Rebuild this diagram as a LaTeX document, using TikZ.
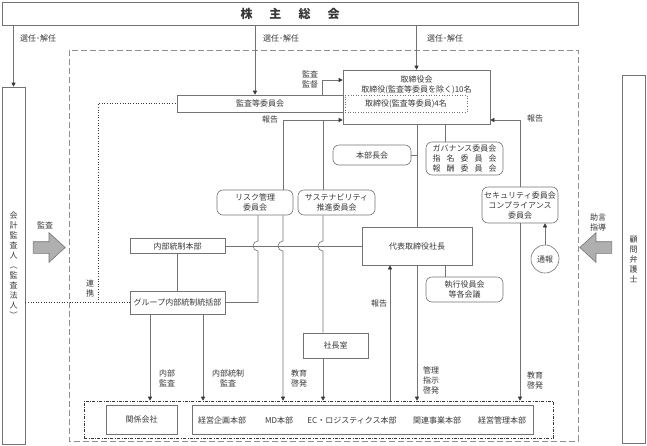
\documentclass[tikz,border=0pt]{standalone}
\usepackage{fontspec}
\setmainfont{Noto Sans CJK JP}
\usetikzlibrary{arrows.meta,shapes.arrows}
\definecolor{ln}{RGB}{115,115,115}
\definecolor{tx}{RGB}{55,55,55}
\definecolor{af}{RGB}{175,175,175}
\begin{document}
\begin{tikzpicture}[x=1pt, y=-1pt, color=ln, line width=0.6pt, font=\fontsize{8}{10}\selectfont,
  box/.style={draw=ln, text=tx, align=center, inner sep=0pt},
  rbox/.style={box, rounded corners=6pt},
  lbl/.style={text=tx, align=center, inner sep=0pt},
  arr/.style={-{Triangle[length=4pt,width=4pt,color=tx]}},
  bigarr/.style={single arrow, draw=ln, fill=af, inner sep=5.5pt, single arrow head extend=9pt, single arrow tip angle=85}]
\useasboundingbox (0,0) rectangle (647,445);
\draw[dash pattern=on 6pt off 3pt, ln!80] (69,50) rectangle (578,441);
\node[box, minimum width=576, minimum height=23, font=\fontsize{12}{14}\selectfont\bfseries] (kabu) at (290,13.5) {株\hspace{17pt}主\hspace{17pt}総\hspace{17pt}会};
\node[box, minimum width=23, minimum height=357] (kaikei) at (13.5,265.5) {\fontsize{8}{12}\selectfont 会\\計\\監\\査\\人\\︵\\監\\査\\法\\人\\︶};
\node[box, minimum width=23, minimum height=368] (komon) at (633.5,259) {\fontsize{8}{13.5}\selectfont 顧\\問\\弁\\護\\士};
\node[box, minimum width=166, minimum height=17] (kansa) at (260,103.5) {監査等委員会};
\node[box, minimum width=147, minimum height=54] (tori) at (416.5,97) {};
\node[lbl] (toritxt) at (416.5,84.5) {取締役会\\取締役(監査等委員を除く)10名};
\node[box, dotted, minimum width=122, minimum height=17] (tori4) at (406,103.5) {取締役(監査等委員)4名};
\node[rbox, minimum width=78, minimum height=20] (honbu) at (372,155) {本部長会};
\node[rbox, minimum width=77, minimum height=33] (gov) at (464.5,158.5) {ガバナンス委員会\\\makebox[64pt][s]{指\hfill 名\hfill 委\hfill 員\hfill 会}\\\makebox[64pt][s]{報\hfill 酬\hfill 委\hfill 員\hfill 会}};
\node[rbox, minimum width=76, minimum height=25] (risk) at (255,202.5) {リスク管理\\委員会};
\node[rbox, minimum width=77, minimum height=25] (sust) at (336.5,202.5) {サステナビリティ\\推進委員会};
\node[rbox, minimum width=76, minimum height=36] (sec) at (520,205) {セキュリティ委員会\\コンプライアンス\\委員会};
\node[box, circle, minimum size=28] (tsuho) at (545,259) {通報};
\node[box, minimum width=95, minimum height=15] (naibu) at (177.5,246) {内部統制本部};
\node[box, minimum width=110, minimum height=38] (ceo) at (417,246) {代表取締役社長};
\node[rbox, minimum width=77, minimum height=25] (shikko) at (464.5,289.5) {執行役員会\\等各会議};
\node[box, minimum width=95, minimum height=23] (gint) at (177.5,302.5) {グループ内部統制統括部};
\node[box, minimum width=65, minimum height=25] (shacho) at (335.5,345.5) {社長室};
\node[box, draw=tx, dash pattern=on 3pt off 1.5pt on 0.6pt off 1.5pt, minimum width=469, minimum height=37] (grp) at (318.5,419.5) {};
\node[box, minimum width=71, minimum height=29] (kankei) at (141.5,419.5) {関係会社};
\node[box, minimum width=341, minimum height=29] (divs) at (362.5,419.5) {};
\node[lbl] (d1) at (222,420) {経営企画本部};
\node[lbl] (d2) at (279,420) {MD本部};
\node[lbl] (d3) at (352,420) {EC・ロジスティクス本部};
\node[lbl] (d4) at (437,420) {関連事業本部};
\node[lbl] (d5) at (502,420) {経営管理本部};
\node[bigarr, minimum height=32] (kansaarr) at (46,247.5) {};
\node[bigarr, shape border rotate=180, minimum height=32] (jogenarr) at (599,247.5) {};
\coordinate (rj) at (323,120);
\draw[arr] (kaikei.north |- kabu.south) -- (kaikei.north);
\draw[arr] (255,0 |- kabu.south) -- (255,0 |- kansa.north);
\draw[arr] (tori.north |- kabu.south) -- (tori.north);
\draw[arr] (322,0 |- kansa.north) |- (tori.west |- 0,80);
\draw[arr] (283,0 |- risk.north) |- (tori.west |- 0,120);
\draw (323,0 |- sust.north) -- (rj);
\draw[arr] (283,0 |- risk.south) -- (283,241) arc[start angle=90, end angle=270, radius=5pt] -- (283,0 |- grp.north);
\draw (258,0 |- risk.south) -- (258,241) arc[start angle=90, end angle=270, radius=5pt] |- (gint.east);
\draw (323,0 |- sust.south) -- (323,241) arc[start angle=90, end angle=270, radius=5pt] -- (323,0 |- shacho.north);
\draw[arr] (323,0 |- shacho.south) -- (323,0 |- grp.north);
\draw (naibu.east) -- (ceo.west);
\draw (naibu.south) -- (gint.north);
\draw[arr] (150,0 |- gint.south) -- (150,0 |- grp.north);
\draw[arr] (203,0 |- gint.south) -- (203,0 |- grp.north);
\draw[arr] (390,0 |- grp.north) -- (390,0 |- ceo.south);
\draw (ceo.north |- tori.south) -- (ceo.north);
\draw (honbu.east) -- (ceo.north |- honbu.east);
\draw (445,0 |- tori.south) -- (445,0 |- gov.north);
\draw[arr] (ceo.south) -- (ceo.south |- grp.north);
\draw (445,0 |- ceo.south) -- (445,0 |- shikko.north);
\draw[arr] (sec.north) |- (tori.east |- 0,120);
\draw[arr] (sec.south) -- (sec.south |- grp.north);
\draw[arr] (tsuho.north) -- (tsuho.north |- sec.south);
\draw[dotted, tx] (kaikei.east |- gint.west) -- (gint.west);
\draw[dotted, tx] (98,0 |- gint.west) |- (kansa.west);
\node[lbl] (s1) at (38,38) {選任･解任};
\node[lbl] (s2) at (281,38) {選任･解任};
\node[lbl] (s3) at (445,38) {選任･解任};
\node[lbl] (kantoku) at (310,79) {監査\\監督};
\node[lbl] (hk1) at (270,119) {報告};
\node[lbl] (hk2) at (535,118) {報告};
\node[lbl] (hk3) at (379,303) {報告};
\node[lbl] (naikan) at (167,378) {内部\\監査};
\node[lbl] (naitou) at (228,378) {内部統制\\監査};
\node[lbl] (kyo1) at (299,378) {教育\\啓発};
\node[lbl] (kanri) at (431,380) {管理\\指示\\啓発};
\node[lbl] (kyo2) at (535,380) {教育\\啓発};
\node[lbl] (kansalbl) at (45,225) {監査};
\node[lbl] (jogen) at (598,222) {助言\\指導};
\node[lbl] (renkei) at (90,288) {連\\携};
\end{tikzpicture}
\end{document}
